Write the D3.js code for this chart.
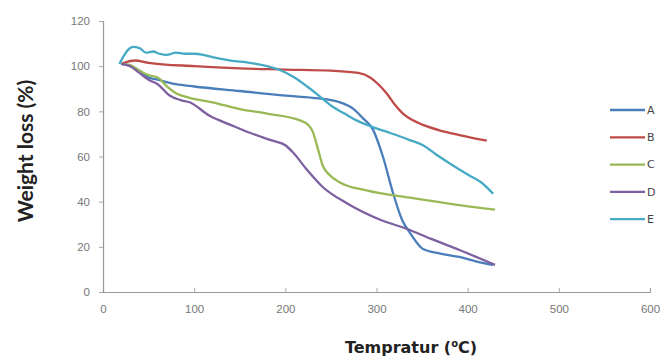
<!DOCTYPE html>
<html>
<head>
<meta charset="utf-8">
<script src="https://cdn.jsdelivr.net/npm/d3@7"></script>
<style>
  body { margin: 0; background: #fff; }
  svg { display: block; font-family: "DejaVu Sans", Verdana, sans-serif; }
  .tick text { fill: #777; font-size: 11.5px; }
</style>
</head>
<body>
<svg id="chart" width="665" height="362"></svg>
<script>
// TGA curves: [temperature, weight %]
const seriesNames = ['A', 'B', 'C', 'D', 'E'];
const colors = ['#4a7ebb', '#be4b48', '#98b954', '#7d60a0', '#46aac5'];

const curveA = [[20,101],[30,100],[40,98],[50,95],[60,94],[80,92],[100,91],[150,89],[200,87],[230,86],[260,84],[275,81],[285,77],[296,72],[307,60],[318,44],[328,32],[337,26],[351,19],[370,17],[391,15.5],[410,13.5],[428,12]];
const curveB = [[20,101],[35,102.5],[50,101.5],[100,100],[150,99],[200,98.5],[250,98],[280,97],[293,95],[302,92],[311,88],[320,83],[329,79],[340,76],[351,74],[370,71.5],[391,69.5],[421,67]];
const curveC = [[20,101],[30,100.5],[40,98],[50,96],[60,95],[70,91],[80,88],[95,86],[120,84],[150,81],[180,79],[216,76],[225,74],[230,71],[236,63],[241,56],[248,52],[260,48.5],[289,45],[340,41.6],[391,38.5],[430,36.5]];
const curveD = [[20,101],[30,100],[40,97],[50,94],[60,92],[73,87],[85,85],[95,84],[117,78],[140,74],[161,70.5],[186,67],[200,65],[208,62],[224,54],[241,46.5],[267,39.4],[304,32],[333,28],[360,23.5],[391,18.6],[430,12]];
const curveE = [[18,101],[22,104],[27,107],[33,108.5],[40,108],[47,106],[55,106.5],[62,105.5],[70,105],[80,106],[90,105.5],[100,105.5],[110,105],[120,104],[140,102.5],[161,101.5],[180,100],[194,98.3],[210,95],[224,91],[238,86.5],[252,82],[265,79],[278,76],[296,73],[315,70.4],[335,67.5],[351,65],[365,61],[380,57],[400,52],[415,48.5],[428,43.5]];
const allCurves = [curveA, curveB, curveC, curveD, curveE];

const xTicks = [0, 100, 200, 300, 400, 500, 600];
const yTicks = [0, 20, 40, 60, 80, 100, 120];

const svg = d3.select('#chart');
const x = d3.scaleLinear().domain([0, 600]).range([103, 650]);
const y = d3.scaleLinear().domain([0, 120]).range([292, 21]);

const xAxis = svg.append('g')
  .attr('transform', 'translate(0,292)')
  .call(d3.axisBottom(x).tickValues(xTicks).tickSize(-4).tickPadding(13));
const yAxis = svg.append('g')
  .attr('transform', 'translate(103,0)')
  .call(d3.axisLeft(y).tickValues(yTicks).tickSize(4).tickPadding(9));
[xAxis, yAxis].forEach(g => {
  g.select('.domain').attr('stroke', '#999').attr('stroke-width', 1.2);
  g.selectAll('.tick line').attr('stroke', '#aaa');
});

const line = d3.line()
  .x(d => x(d[0]))
  .y(d => y(d[1]))
  .curve(d3.curveMonotoneX);

svg.append('g').selectAll('path')
  .data(allCurves)
  .join('path')
  .attr('d', line)
  .attr('fill', 'none')
  .attr('stroke', (d, i) => colors[i])
  .attr('stroke-width', 2.3);

// legend
const legend = svg.append('g').selectAll('g')
  .data(seriesNames)
  .join('g')
  .attr('transform', (d, i) => `translate(610,${110 + i * 27.3})`);
legend.append('line')
  .attr('x1', 0).attr('x2', 35)
  .attr('stroke', (d, i) => colors[i])
  .attr('stroke-width', 2.3);
legend.append('text')
  .attr('x', 37).attr('dy', '0.35em')
  .attr('font-size', 11).attr('fill', '#444')
  .text(d => d);

// axis titles
svg.append('text')
  .attr('transform', 'translate(33,151) rotate(-90)')
  .attr('text-anchor', 'middle')
  .attr('font-family', 'Lato, "Open Sans", sans-serif')
  .attr('font-size', 21).attr('font-weight', 'bold').attr('fill', '#222')
  .text('Weight loss (%)');

const xt = svg.append('text')
  .attr('x', 411).attr('y', 353)
  .attr('text-anchor', 'middle')
  .attr('font-size', 16).attr('font-weight', 'bold').attr('fill', '#222');
xt.append('tspan').text('Tempratur  (');
xt.append('tspan').attr('font-size', 10).attr('dy', -6).text('o');
xt.append('tspan').attr('dy', 6).text('C)');
</script>
</body>
</html>
